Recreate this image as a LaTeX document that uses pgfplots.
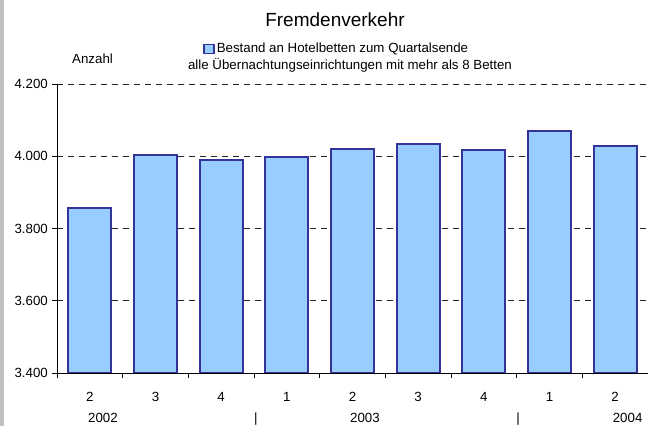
\documentclass[border=0pt]{standalone}
\usepackage{pgfplots}
\pgfplotsset{compat=1.18}
\usepackage{fontspec}
\setmainfont{Liberation Sans}
\definecolor{barfill}{HTML}{99CCFF}
\definecolor{bardraw}{HTML}{333399}
\definecolor{strip}{HTML}{C0C0C0}
\begin{document}
\fontsize{13.3bp}{16bp}\selectfont
\begin{tikzpicture}
\path[use as bounding box] (0,0) rectangle (648bp,426bp);
\fill[strip] (0,0) rectangle (4bp,426bp);
\node[anchor=base, font=\fontsize{19bp}{22bp}\selectfont] at (335bp,399bp) {Fremdenverkehr};
\node[anchor=base, inner sep=0pt] at (350bp,356bp) {alle Übernachtungseinrichtungen mit mehr als 8 Betten};
\node[anchor=base west, inner sep=0pt] at (72bp,362bp) {Anzahl};
\begin{axis}[
  at={(57bp,53bp)}, anchor=south west,
  scale only axis, width=591bp, height=289bp,
  xmin=-0.5, xmax=8.5, ymin=3400, ymax=4200,
  axis x line*=bottom, axis y line*=left,
  axis line style={black, line width=0.8bp},
  ybar, bar width=43bp,
  xtick={0,...,8}, xticklabels={2,3,4,1,2,3,4,1,2},
  major x tick style={draw=none},
  minor xtick={-0.5,0.5,1.5,2.5,3.5,4.5,5.5,6.5,7.5},
  minor tick length=5bp, major tick length=5bp,
  tick align=outside,
  tick style={black, line width=0.8bp},
  ytick={3400,3600,3800,4000,4200},
  ymajorgrids,
  grid style={black!85, dash pattern=on 6bp off 5bp, line width=0.9bp},
  /pgf/number format/.cd, fixed, 1000 sep={.}, assume math mode=true,
  /pgfplots/.cd,
  xticklabel style={anchor=base, yshift=-23bp},
  yticklabel style={anchor=east, inner sep=0pt, xshift=-4bp},
  clip mode=individual,
  legend style={draw=none, fill=none, inner sep=0pt, outer sep=0pt,
    at={(axis description cs:0.247,1.121)}, anchor=west,
    /tikz/every even column/.append style={column sep=3bp}},
  legend image code/.code={\draw[#1] (0bp,-4.5bp) rectangle (10bp,4.5bp);},
]
\addplot[fill=barfill, draw=bardraw, line width=1.8bp] coordinates {
(0,3857) (1,4004) (2,3990) (3,3998) (4,4019) (5,4033) (6,4017) (7,4071) (8,4028)};
\addlegendentry{Bestand an Hotelbetten zum Quartalsende}
\node[anchor=base] at (axis cs:0.2,3400) [yshift=-49bp] {2002};
\node[anchor=base] at (axis cs:2.53,3400) [yshift=-49bp] {|};
\node[anchor=base] at (axis cs:4.19,3400) [yshift=-49bp] {2003};
\node[anchor=base] at (axis cs:6.52,3400) [yshift=-49bp] {|};
\node[anchor=base] at (axis cs:8.19,3400) [yshift=-49bp] {2004};
\end{axis}
\end{tikzpicture}
\end{document}
